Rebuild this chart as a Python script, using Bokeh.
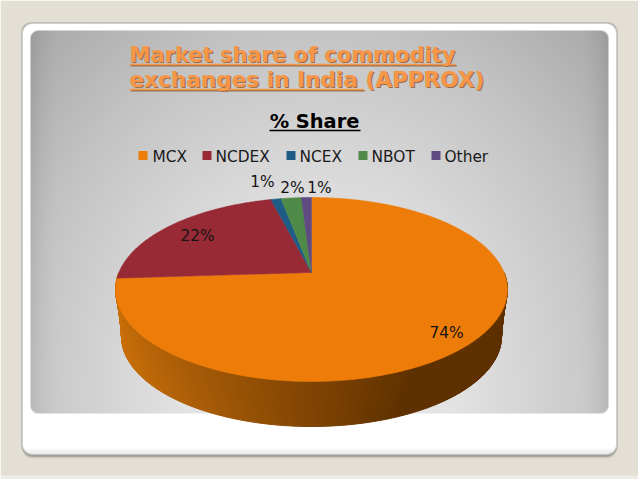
import numpy as np
from bokeh.plotting import figure
from bokeh.embed import file_html
from bokeh.resources import INLINE
from bokeh.core.properties import value

# ---- data ----
categories = ["MCX", "NCDEX", "NCEX", "NBOT", "Other"]
shares = [74, 22, 1, 2, 1]
share_labels = ["74%", "22%", "1%", "2%", "1%"]
slide_title = ["Market share of commodity", "exchanges in India (APPROX)"]
chart_title = "% Share"

# ---- style ----
colors = ["#ee7c08", "#982a36", "#1f5c85", "#4f8a48", "#5f4a82"]
W, H = 638, 479
FONT = "DejaVu Sans"
CX, CY, RY, RX_K, APEX = 311.0, 289.0, 92.0, 192.6, 17.0


def Y(y):
    return H - np.asarray(y, float)


def rounded(xx, yy, x0, y0, x1, y1, r):
    dx = np.maximum(np.maximum(x0 + r - xx, xx - (x1 - r)), 0)
    dy = np.maximum(np.maximum(y0 + r - yy, yy - (y1 - r)), 0)
    d = np.hypot(dx, dy) - r
    return np.clip(0.5 - d, 0, 1)


yy, xx = np.mgrid[0:H, 0:W] + 0.5
img = np.zeros((H, W, 3), float)
img[...] = (228, 223, 213)
img[yy >= 475] = (238, 236, 230)


def over(mask, col):
    c = np.asarray(col, float)
    if c.ndim == 2:
        c = c[..., None] * np.ones(3)
    img[...] = img * (1 - mask[..., None]) + c * mask[..., None]


# card shadow, border, white card
for off, a in ((5, .10), (4, .25), (3, .45), (2, .6)):
    over(rounded(xx, yy, 22, 24, 616, 453 + off, 10) * a, (110, 108, 100))
over(rounded(xx, yy, 21, 22, 617, 455, 10), (160, 160, 155))
card = np.interp(yy, [447, 454], [255, 232])
over(rounded(xx, yy, 22, 23, 616, 454, 10), card)
# grey panel
t = np.hypot((xx - 318) / 300, (yy - 400) / 370)
v = np.interp(t, [0, .45, 1.0, 1.42], [232, 227, 196, 166])
edge = np.minimum(xx - 30, 608 - xx)
v = v - 14 * np.clip(1 - edge / 30, 0, 1) ** 2
over(rounded(xx, yy, 30, 30, 608, 413, 8), v)

rgba = np.zeros((H, W), dtype=np.uint32)
view = rgba.view(np.uint8).reshape(H, W, 4)
view[..., :3] = np.clip(img, 0, 255).astype(np.uint8)
view[..., 3] = 255


def project(deg):
    """perspective view of the pie disc: percent angle to screen position"""
    a = np.radians(deg)
    u, w = np.sin(a), np.cos(a)
    k = APEX / RY
    d = 1 + k * w
    return CX + RX_K * u / d, CY - (RY * w + APEX) / d


p = figure(width=W, height=H, x_range=(0, W), y_range=(0, H), toolbar_location=None,
           output_backend="svg", min_border=0, outline_line_color=None,
           background_fill_color=None, border_fill_color=None)
p.axis.visible = False
p.grid.visible = False
p.image_rgba(image=[rgba[::-1]], x=0, y=0, dw=W, dh=H)

# pie side wall
phi = np.linspace(90, 270, 181)
px, py = project(phi)
LOW_RX, LOW_RY, LOW_CY = 190.0, 90.0, 336.0
qx = CX + LOW_RX * np.sin(np.radians(phi))
qy = LOW_CY - LOW_RY * np.cos(np.radians(phi))
xs, ys, cs = [], [], []
for i in range(len(phi) - 1):
    xs.append([px[i], px[i + 1], qx[i + 1], qx[i]])
    ys.append(list(Y([py[i], py[i + 1], qy[i + 1], qy[i]])))
    mx = (qx[i] + qx[i + 1]) / 2
    f = np.clip((mx - 118) / (400 - 118), 0, 1)
    r = np.interp(f, [0, 1], [202, 94])
    g = np.interp(f, [0, 1], [112, 48])
    b = np.interp(f, [0, 1], [10, 0])
    cs.append("#%02x%02x%02x" % (int(r), int(g), int(b)))
p.patches(xs, ys, fill_color=cs, line_color=cs, line_width=1)

# pie top
start = 0.0
for s, c in zip(shares, colors):
    a = np.linspace(start, start + s * 3.6, max(3, int(s * 4)))
    x, y = project(a)
    p.patch(np.r_[CX, x], Y(np.r_[CY - APEX, y]), fill_color=c, line_color=c, line_width=0.5)
    start += s * 3.6


def txt(x, y, s, size, color, bold=False, align="left"):
    p.text([x], [H - y], text=[s], text_font=value(FONT), text_font_size=f"{size}px",
           text_font_style="bold" if bold else "normal", text_color=color,
           text_align=align, text_baseline="middle")


# slide title (y is the middle of the line)
for xo, col in ((1.2, "#9a7050"), (0, "#f79646")):
    txt(129 + xo, 54 + xo, slide_title[0], 21.0, col, True)
    txt(129 + xo, 79 + xo, slide_title[1], 21.6, col, True)
    p.segment([129 + xo, 129 + xo], [H - 64 - xo, H - 89 - xo], [455 + xo, 363 + xo], [H - 64 - xo, H - 89 - xo],
              line_color=col, line_width=1.5)

# chart title
txt(314, 121, chart_title, 19.4, "#000000", True, "center")
p.segment([269], [H - 130], [360], [H - 130], line_color="#000000", line_width=1.5)

# legend
sq_x = [138, 202, 286, 358, 431]
tx_x = [152, 215, 299, 371, 444]
p.rect([x + 4.5 for x in sq_x], [H - 155] * 5, width=9, height=9, fill_color=colors, line_color=None)
for x, n in zip(tx_x, categories):
    txt(x, 156, n, 15.4, "#1a1a1a")

# data labels
lab_x = [446, 197, 262, 292, 319]
lab_y = [332, 235, 181, 187, 187]
for x, y, s in zip(lab_x, lab_y, share_labels):
    txt(x, y, s, 15.4, "#141414", False, "center")

open("out.html", "w").write(file_html(p, INLINE))
